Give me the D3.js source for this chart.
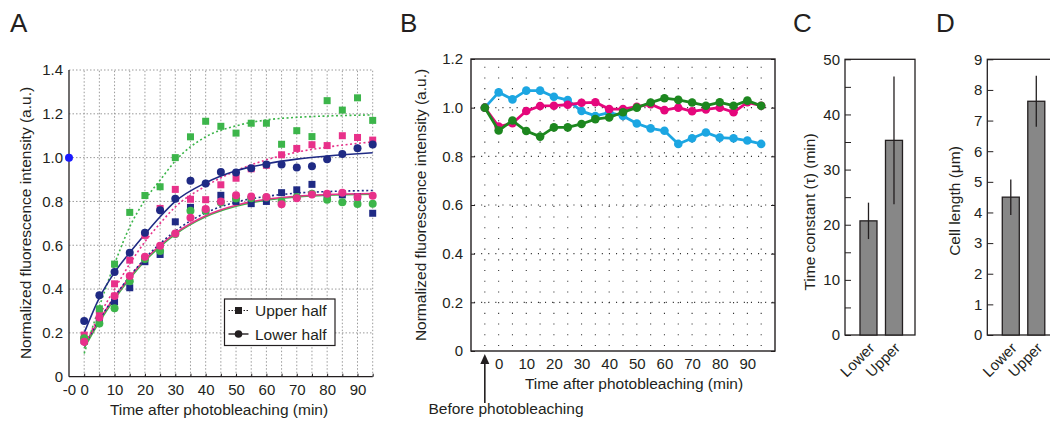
<!DOCTYPE html>
<html>
<head>
<meta charset="utf-8">
<script src="https://cdn.jsdelivr.net/npm/d3@7"></script>
<style>
body { margin: 0; background: #fff; }
svg text { font-family: "Liberation Sans", Arial, sans-serif; fill: #231f20; }
</style>
</head>
<body>
<svg id="fig" width="1050" height="424"></svg>
<script>

/////
// Data
/////

// Panel A : recovery after photobleaching, squares = upper half, circles = lower half
var timesA = [0, 5, 10, 15, 20, 25, 30, 35, 40, 45, 50, 55, 60, 65, 70, 75, 80, 85, 90, 95];
var upperGreen = [0.17, 0.31, 0.514, 0.75, 0.827, 0.867, 1.0, 1.095, 1.166, 1.143, 1.112, 1.157, 1.157, 1.061, 1.123, 1.096, 1.26, 1.217, 1.273, 1.17];
var upperPink  = [0.19, 0.30, 0.424, 0.532, 0.645, 0.768, 0.855, 0.81, 0.808, 0.876, 0.906, 0.949, 0.965, 1.013, 1.042, 1.059, 1.055, 1.10, 1.092, 1.08];
var upperNavy  = [0.165, 0.26, 0.342, 0.406, 0.525, 0.558, 0.707, 0.773, 0.76, 0.828, 0.80, 0.79, 0.80, 0.84, 0.853, 0.878, 0.83, 0.83, 0.82, 0.746];
var lowerGreen = [0.175, 0.243, 0.313, 0.436, 0.537, 0.574, 0.651, 0.758, 0.758, 0.795, 0.814, 0.815, 0.818, 0.80, 0.82, 0.835, 0.808, 0.796, 0.788, 0.79];
var lowerPink  = [0.16, 0.27, 0.368, 0.46, 0.548, 0.598, 0.654, 0.726, 0.766, 0.80, 0.828, 0.823, 0.82, 0.787, 0.815, 0.832, 0.835, 0.84, 0.82, 0.826];
var lowerNavy  = [0.254, 0.372, 0.478, 0.566, 0.657, 0.76, 0.812, 0.895, 0.882, 0.934, 0.932, 0.952, 0.969, 0.969, 0.955, 0.961, 0.993, 1.016, 1.043, 1.06];

// fitted curves
var fitTimes = [0, 5, 10, 15, 20, 25, 30, 40, 50, 60, 70, 80, 95];
var fitUpperGreen = [0.106, 0.32, 0.515, 0.684, 0.806, 0.897, 0.985, 1.095, 1.145, 1.172, 1.184, 1.19, 1.195];
var fitUpperPink  = [0.14, 0.28, 0.40, 0.515, 0.616, 0.70, 0.775, 0.87, 0.94, 0.99, 1.025, 1.048, 1.072];
var fitUpperNavy  = [0.14, 0.26, 0.365, 0.458, 0.54, 0.608, 0.665, 0.748, 0.797, 0.823, 0.838, 0.845, 0.85];
var fitLowerGreen = [0.13, 0.25, 0.355, 0.447, 0.528, 0.594, 0.65, 0.73, 0.778, 0.806, 0.82, 0.828, 0.833];
var fitLowerPink  = [0.14, 0.26, 0.363, 0.455, 0.535, 0.60, 0.655, 0.735, 0.783, 0.81, 0.824, 0.831, 0.836];
var fitLowerNavy  = [0.20, 0.36, 0.476, 0.566, 0.65, 0.73, 0.80, 0.885, 0.94, 0.972, 0.993, 1.007, 1.022];

var beforeTimeA = -5, beforeValueA = 1.0;
var xTicksA = [-5, 0, 10, 20, 30, 40, 50, 60, 70, 80, 90];
var xTickLabelsA = ["-0", "0", "10", "20", "30", "40", "50", "60", "70", "80", "90"];
var yTicksA = [0, 0.2, 0.4, 0.6, 0.8, 1.0, 1.2, 1.4];

// Panel B : unbleached control
var timesB = [-5, 0, 5, 10, 15, 20, 25, 30, 35, 40, 45, 50, 55, 60, 65, 70, 75, 80, 85, 90, 95];
var controlCyan  = [1.0, 1.063, 1.034, 1.07, 1.07, 1.045, 1.031, 0.986, 0.966, 0.98, 0.966, 0.935, 0.915, 0.905, 0.851, 0.874, 0.898, 0.877, 0.874, 0.865, 0.851];
var controlPink  = [1.0, 0.922, 0.936, 0.986, 1.007, 1.008, 1.012, 1.02, 1.022, 0.994, 0.994, 1.004, 1.014, 0.99, 1.0, 0.985, 0.993, 1.0, 0.981, 1.022, 1.008];
var controlGreen = [1.0, 0.906, 0.947, 0.904, 0.881, 0.919, 0.919, 0.933, 0.953, 0.96, 0.981, 1.0, 1.021, 1.039, 1.032, 1.021, 1.008, 1.022, 1.008, 1.029, 1.008];
var xTicksB = [0, 10, 20, 30, 40, 50, 60, 70, 80, 90];
var yTicksB = [0, 0.2, 0.4, 0.6, 0.8, 1.0, 1.2];

// Panels C and D
var barCats = ["Lower", "Upper"];
var tauMean = [20.7, 35.3];
var tauErr  = [3.3, 11.6];
var lengthMean = [4.5, 7.63];
var lengthErr  = [0.58, 0.83];

/////
// Drawing
/////

var ink = "#231f20";
var cGreen = "#3cb54a", cPink = "#e8318a", cNavy = "#1f2a84";

var svg = d3.select("#fig");

function panelLabel(txt, x) {
  svg.append("text").attr("x", x).attr("y", 32)
    .style("font-size", "26px").text(txt);
}

// ---------- Panel A ----------
var ax = d3.scaleLinear().domain([-5, 95]).range([69, 372.7]);
var ay = d3.scaleLinear().domain([0, 1.4]).range([376.7, 70]);
var gA = svg.append("g");

// dotted grid
gA.selectAll(".vg").data(d3.range(0, 100, 5)).enter().append("line")
  .attr("x1", ax).attr("x2", ax).attr("y1", ay(0)).attr("y2", ay(1.4))
  .attr("stroke", "#9a9a9a").attr("stroke-width", 1).attr("stroke-dasharray", "1.5,2");
gA.selectAll(".hg").data(yTicksA.slice(1)).enter().append("line")
  .attr("x1", ax(-5)).attr("x2", ax(95)).attr("y1", ay).attr("y2", ay)
  .attr("stroke", "#9a9a9a").attr("stroke-width", 1).attr("stroke-dasharray", "1.5,2");

// axes
gA.append("g").attr("transform", "translate(0," + ay(0) + ")")
  .call(d3.axisBottom(ax).tickValues(d3.range(0, 100, 5)).tickSize(-3).tickFormat(""))
  .call(function(g) { g.select(".domain").remove(); g.selectAll("line").attr("stroke", ink); });
gA.append("g").attr("transform", "translate(0," + ay(0) + ")")
  .call(d3.axisBottom(ax).tickValues(xTicksA).tickSize(0).tickPadding(8)
    .tickFormat(function(d, i) { return xTickLabelsA[i]; }))
  .call(function(g) { g.select(".domain").remove(); g.selectAll("text").style("font-size", "15px").attr("fill", ink); });
gA.append("g").attr("transform", "translate(" + ax(-5) + ",0)")
  .call(d3.axisLeft(ay).tickValues(yTicksA).tickSize(0).tickPadding(6)
    .tickFormat(function(d) { return d === 0 ? "0" : d3.format(".1f")(d); }))
  .call(function(g) { g.select(".domain").remove(); g.selectAll("text").style("font-size", "15px").attr("fill", ink); });
gA.append("line").attr("x1", ax(-5)).attr("x2", ax(-5)).attr("y1", ay(1.4)).attr("y2", ay(0))
  .attr("stroke", ink).attr("stroke-width", 1.3);
gA.append("line").attr("x1", ax(-5)).attr("x2", ax(95)).attr("y1", ay(0)).attr("y2", ay(0))
  .attr("stroke", ink).attr("stroke-width", 1.3);

// fits
var fitLine = d3.line().x(function(d) { return ax(d[0]); }).y(function(d) { return ay(d[1]); })
  .curve(d3.curveMonotoneX);
var fits = [
  {v: fitLowerGreen, c: cGreen, dash: null},
  {v: fitLowerPink, c: cPink, dash: null},
  {v: fitUpperNavy, c: cNavy, dash: "2,2.5"},
  {v: fitUpperGreen, c: cGreen, dash: "2,2.5"},
  {v: fitUpperPink, c: cPink, dash: "2,2.5"},
  {v: fitLowerNavy, c: cNavy, dash: null}
];
fits.forEach(function(f) {
  gA.append("path").datum(fitTimes.map(function(t, i) { return [t, f.v[i]]; }))
    .attr("d", fitLine).attr("fill", "none").attr("stroke", f.c)
    .attr("stroke-width", 1.6).attr("stroke-dasharray", f.dash);
});

// points
var squares = [[upperNavy, cNavy], [upperPink, cPink], [upperGreen, cGreen]];
var circles = [[lowerGreen, cGreen], [lowerPink, cPink], [lowerNavy, cNavy]];
squares.forEach(function(s) {
  gA.selectAll(null).data(timesA).enter().append("rect")
    .attr("x", function(t) { return ax(t) - 3.5; })
    .attr("y", function(t, i) { return ay(s[0][i]) - 3.5; })
    .attr("width", 7).attr("height", 7).attr("fill", s[1]);
});
circles.forEach(function(s) {
  gA.selectAll(null).data(timesA).enter().append("circle")
    .attr("cx", ax).attr("cy", function(t, i) { return ay(s[0][i]); })
    .attr("r", 4).attr("fill", s[1]);
});
gA.append("circle").attr("cx", ax(beforeTimeA)).attr("cy", ay(beforeValueA))
  .attr("r", 4).attr("fill", "#1a1aff");

// legend
var leg = gA.append("g").attr("transform", "translate(224.5,299)");
leg.append("rect").attr("width", 110.5).attr("height", 46.5)
  .attr("fill", "#fff").attr("stroke", ink).attr("stroke-width", 1.2);
leg.append("line").attr("x1", 4).attr("x2", 24).attr("y1", 11.5).attr("y2", 11.5)
  .attr("stroke", ink).attr("stroke-width", 1.2).attr("stroke-dasharray", "1.5,1.5");
leg.append("rect").attr("x", 10.5).attr("y", 8).attr("width", 7).attr("height", 7).attr("fill", ink);
leg.append("line").attr("x1", 4).attr("x2", 24).attr("y1", 35).attr("y2", 35)
  .attr("stroke", ink).attr("stroke-width", 1.4);
leg.append("circle").attr("cx", 14).attr("cy", 35).attr("r", 3.8).attr("fill", ink);
leg.append("text").attr("x", 30.5).attr("y", 17).style("font-size", "15.5px").text("Upper half");
leg.append("text").attr("x", 30.5).attr("y", 40.5).style("font-size", "15.5px").text("Lower half");

gA.append("text").attr("x", 219).attr("y", 415).attr("text-anchor", "middle")
  .style("font-size", "15.5px").text("Time after photobleaching (min)");
gA.append("text").attr("transform", "translate(31,223) rotate(-90)").attr("text-anchor", "middle")
  .style("font-size", "15.5px").text("Normalized fluorescence intensity (a.u.)");
panelLabel("A", 10);

// ---------- Panel B ----------
var bx = d3.scaleLinear().domain([-10, 100]).range([471, 775]);
var by = d3.scaleLinear().domain([0, 1.2]).range([351, 59]);
var gB = svg.append("g");

gB.selectAll(".vg").data(d3.range(-5, 100, 5)).enter().append("line")
  .attr("x1", bx).attr("x2", bx).attr("y1", by(0) - 5).attr("y2", by(1.2))
  .attr("stroke", "#333").attr("stroke-width", 1.1).attr("stroke-dasharray", "1.1,9.6");
gB.selectAll(".hg").data(yTicksB.slice(1, -1)).enter().append("line")
  .attr("x1", bx(-10) + 3).attr("x2", bx(100)).attr("y1", by).attr("y2", by)
  .attr("stroke", "#333").attr("stroke-width", 1.1).attr("stroke-dasharray", "1.1,6");

gB.append("g").attr("transform", "translate(0," + by(0) + ")")
  .call(d3.axisBottom(bx).tickValues(xTicksB).tickSize(0).tickPadding(7))
  .call(function(g) { g.select(".domain").remove(); g.selectAll("text").style("font-size", "15px").attr("fill", ink); });
gB.append("g").attr("transform", "translate(" + bx(-10) + ",0)")
  .call(d3.axisLeft(by).tickValues(yTicksB).tickSize(-4).tickPadding(8)
    .tickFormat(function(d) { return d === 0 ? "0" : d3.format(".1f")(d); }))
  .call(function(g) { g.select(".domain").remove(); g.selectAll("line").attr("stroke", ink);
    g.selectAll("text").style("font-size", "15px").attr("fill", ink); });
gB.append("g").attr("transform", "translate(" + bx(100) + ",0)")
  .call(d3.axisRight(by).tickValues(yTicksB).tickSize(-4).tickFormat(""))
  .call(function(g) { g.select(".domain").remove(); g.selectAll("line").attr("stroke", ink); });
gB.append("rect").attr("x", bx(-10)).attr("y", by(1.2))
  .attr("width", bx(100) - bx(-10)).attr("height", by(0) - by(1.2))
  .attr("fill", "none").attr("stroke", ink).attr("stroke-width", 1.4);

var seriesB = [[controlCyan, "#1ca6e2"], [controlPink, "#e5077c"], [controlGreen, "#1d871f"]];
var lineB = d3.line().x(function(d) { return bx(d[0]); }).y(function(d) { return by(d[1]); });
seriesB.forEach(function(s) {
  var pts = timesB.map(function(t, i) { return [t, s[0][i]]; });
  gB.append("path").datum(pts).attr("d", lineB).attr("fill", "none")
    .attr("stroke", s[1]).attr("stroke-width", 2.8).attr("stroke-linejoin", "round");
  gB.selectAll(null).data(pts).enter().append("circle")
    .attr("cx", function(d) { return bx(d[0]); }).attr("cy", function(d) { return by(d[1]); })
    .attr("r", 4.3).attr("fill", s[1]);
});

// arrow for the pre-bleach point
var arX = bx(timesB[0]);
gB.append("line").attr("x1", arX).attr("x2", arX).attr("y1", 403).attr("y2", 360)
  .attr("stroke", ink).attr("stroke-width", 1.6);
gB.append("path").attr("d", "M" + arX + ",354 l-4.5,10 l9,0 z").attr("fill", ink);
gB.append("text").attr("x", 506).attr("y", 414).attr("text-anchor", "middle")
  .style("font-size", "15.5px").text("Before photobleaching");
gB.append("text").attr("x", 634).attr("y", 389).attr("text-anchor", "middle")
  .style("font-size", "15.5px").text("Time after photobleaching (min)");
gB.append("text").attr("transform", "translate(426,205) rotate(-90)").attr("text-anchor", "middle")
  .style("font-size", "15.5px").text("Normalized fluorescence intensity (a.u.)");
panelLabel("B", 400);

// ---------- Bar panels C and D ----------
function barPanel(left, yMax, minorStep, majorStep, means, errs, title, titleX, titleY) {
  var g = svg.append("g");
  var y = d3.scaleLinear().domain([0, yMax]).range([335, 59.3]);
  var x = d3.scaleBand().domain(barCats).range([left, left + 70])
    .paddingInner(0.333).paddingOuter(0.539).align(0.545);

  g.append("g").attr("transform", "translate(" + left + ",0)")
    .call(d3.axisLeft(y).tickValues(d3.range(0, yMax + 0.001, minorStep)).tickSize(-6).tickFormat(""))
    .call(function(a) { a.select(".domain").remove(); a.selectAll("line").attr("stroke", ink); });
  g.append("g").attr("transform", "translate(" + left + ",0)")
    .call(d3.axisLeft(y).tickValues(d3.range(0, yMax + 0.001, majorStep)).tickSize(0).tickPadding(5))
    .call(function(a) { a.select(".domain").remove(); a.selectAll("text").style("font-size", "15px").attr("fill", ink); });
  g.append("rect").attr("x", left).attr("y", y(yMax)).attr("width", 70).attr("height", y(0) - y(yMax))
    .attr("fill", "none").attr("stroke", ink).attr("stroke-width", 1.3);

  g.selectAll(".bar").data(barCats).enter().append("rect")
    .attr("x", function(d) { return x(d); })
    .attr("y", function(d, i) { return y(means[i]); })
    .attr("width", x.bandwidth())
    .attr("height", function(d, i) { return y(0) - y(means[i]); })
    .attr("fill", "#878787").attr("stroke", ink).attr("stroke-width", 1.3);
  g.selectAll(".err").data(barCats).enter().append("line")
    .attr("x1", function(d) { return x(d) + x.bandwidth() / 2; })
    .attr("x2", function(d) { return x(d) + x.bandwidth() / 2; })
    .attr("y1", function(d, i) { return y(means[i] + errs[i]); })
    .attr("y2", function(d, i) { return y(means[i] - errs[i]); })
    .attr("stroke", ink).attr("stroke-width", 1.3);
  g.selectAll(".cat").data(barCats).enter().append("text")
    .attr("transform", function(d) { return "translate(" + (x(d) + x.bandwidth() / 2 + 7) + ",349) rotate(-45)"; })
    .attr("text-anchor", "end").style("font-size", "15px").text(function(d) { return d; });
  g.append("text").attr("transform", "translate(" + titleX + "," + titleY + ") rotate(-90)")
    .attr("text-anchor", "middle").style("font-size", "15.5px").text(title);
}

barPanel(845, 50, 5, 10, tauMean, tauErr, "Time constant (\u03c4) (min)", 815, 212);
panelLabel("C", 793);
barPanel(987.3, 9, 1, 1, lengthMean, lengthErr, "Cell length (\u03bcm)", 960, 201);
panelLabel("D", 936);

</script>
</body>
</html>
